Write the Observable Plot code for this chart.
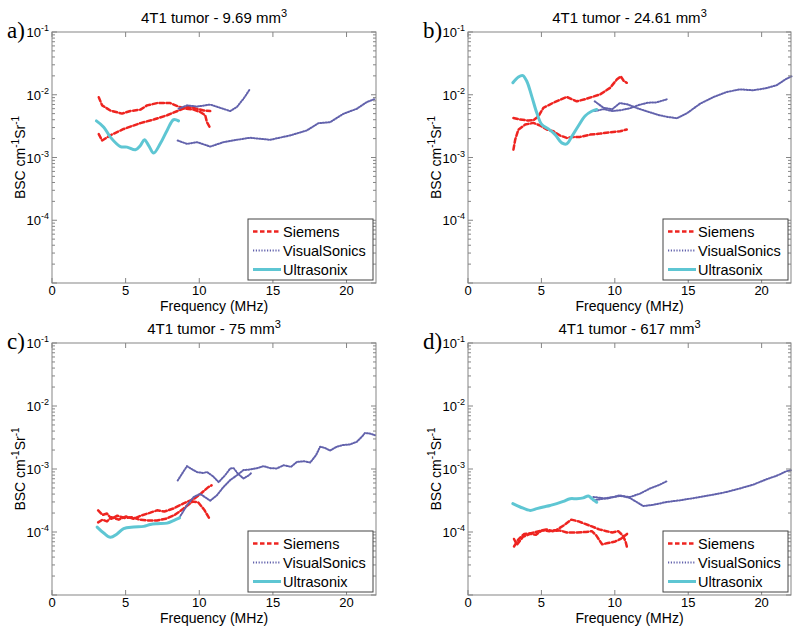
<!DOCTYPE html>
<html><head><meta charset="utf-8">
<script src="https://cdn.jsdelivr.net/npm/d3@7"></script>
<script src="https://cdn.jsdelivr.net/npm/@observablehq/plot@0.6"></script>
<style>
body{margin:0;background:#fff;}
#fig{position:relative;width:800px;height:636px;}
</style></head><body><div id="fig"></div>
<script>
// ---------- tick labels / categories ----------
const xTicks = [0, 5, 10, 15, 20];
const yTicks = [1e-1, 1e-2, 1e-3, 1e-4];
const yTickExp = ["-1", "-2", "-3", "-4"];
const seriesNames = ["Siemens", "VisualSonics", "Ultrasonix"];
const panelLetters = ["a)", "b)", "c)", "d)"];
const panelVolumes = ["9.69", "24.61", "75", "617"];

// ---------- data: [frequency MHz, BSC] ----------
const a_siemens1 = [[3.14,9.3e-3],[3.37,6.9e-3],[3.93,5.7e-3],[4.72,5.1e-3],[5.29,5.6e-3],[5.97,5.9e-3],[6.42,6.9e-3],[7.1,7.5e-3],[8.0,7.5e-3],[8.56,6.6e-3],[9.02,6.1e-3],[9.58,5.9e-3],[10.03,5.4e-3],[10.37,4.8e-3],[10.49,3.7e-3],[10.71,3.0e-3]];
const a_siemens2 = [[3.14,2.4e-3],[3.37,1.9e-3],[3.93,2.3e-3],[4.83,2.9e-3],[5.97,3.6e-3],[6.87,4.1e-3],[7.78,4.8e-3],[8.56,5.7e-3],[9.13,6.5e-3],[9.58,6.3e-3],[10.26,5.7e-3],[10.71,5.6e-3]];
const a_visual1 = [[8.56,6.1e-3],[9.13,6.9e-3],[9.81,6.6e-3],[10.71,7.1e-3],[11.39,6.3e-3],[12.07,5.6e-3],[12.52,6.5e-3],[12.97,8.8e-3],[13.42,1.27e-2]];
const a_visual2 = [[8.5,1.9e-3],[9.13,1.68e-3],[9.81,1.79e-3],[10.71,1.52e-3],[11.62,1.79e-3],[12.52,1.95e-3],[13.42,2.1e-3],[14.78,1.95e-3],[16.14,2.29e-3],[17.27,2.75e-3],[18.06,3.59e-3],[18.85,3.72e-3],[19.75,5.06e-3],[20.66,6.08e-3],[21.33,7.76e-3],[21.9,8.77e-3]];
const a_ultra = [[2.98,3.9e-3],[3.48,3.1e-3],[3.93,2.15e-3],[4.61,1.52e-3],[5.06,1.49e-3],[5.63,1.35e-3],[5.97,1.58e-3],[6.24,1.95e-3],[6.53,1.58e-3],[6.87,1.2e-3],[7.32,1.7e-3],[7.78,2.75e-3],[8.22,4.07e-3],[8.56,3.9e-3]];

const b_siemens1 = [[3.06,4.35e-3],[3.52,4.1e-3],[4.08,3.95e-3],[4.42,4.0e-3],[4.76,4.6e-3],[5.1,6.3e-3],[5.78,7.6e-3],[6.69,9.4e-3],[7.37,8.0e-3],[8.05,8.8e-3],[8.96,1.03e-2],[9.64,1.31e-2],[10.1,1.78e-2],[10.37,2.0e-2],[10.59,1.67e-2],[10.78,1.58e-2]];
const b_siemens2 = [[3.06,1.36e-3],[3.18,1.96e-3],[3.4,2.84e-3],[3.86,3.41e-3],[4.42,3.63e-3],[4.88,3.29e-3],[5.33,2.84e-3],[5.78,2.67e-3],[6.24,2.28e-3],[6.69,2.09e-3],[7.14,2.17e-3],[7.6,2.17e-3],[8.28,2.36e-3],[8.96,2.45e-3],[9.64,2.57e-3],[10.32,2.67e-3],[10.78,2.84e-3]];
const b_visual1 = [[8.6,5.6e-3],[9.2,6.0e-3],[9.8,5.6e-3],[10.4,5.8e-3],[11.0,6.2e-3],[11.6,7.0e-3],[12.2,7.6e-3],[12.8,7.7e-3],[13.5,8.6e-3]];
const b_visual2 = [[8.6,8.0e-3],[9.2,6.3e-3],[9.8,6.0e-3],[10.3,7.5e-3],[10.8,7.2e-3],[11.5,6.2e-3],[12.3,5.4e-3],[13.0,4.8e-3],[13.6,4.5e-3],[14.2,4.3e-3],[14.9,5.2e-3],[15.8,7.4e-3],[16.7,9.4e-3],[17.6,1.13e-2],[18.5,1.24e-2],[19.4,1.2e-2],[20.3,1.3e-2],[21.0,1.45e-2],[21.6,1.8e-2],[22,2.0e-2]];
const b_ultra = [[3.02,1.58e-2],[3.4,1.96e-2],[3.7,2.06e-2],[3.97,1.67e-2],[4.31,9.6e-3],[4.65,5.25e-3],[4.99,3.41e-3],[5.44,2.91e-3],[5.9,2.36e-3],[6.35,1.74e-3],[6.69,1.68e-3],[7.03,2.19e-3],[7.48,3.24e-3],[7.94,4.68e-3],[8.39,5.56e-3],[8.73,5.92e-3]];

const c_siemens1 = [[3.1,1.45e-4],[3.4,1.6e-4],[3.7,1.5e-4],[4.0,1.75e-4],[4.5,1.6e-4],[5.0,1.8e-4],[5.5,1.65e-4],[6.0,1.85e-4],[6.6,2.05e-4],[7.1,2.25e-4],[7.6,2.15e-4],[8.2,2.4e-4],[8.9,2.9e-4],[9.6,3.4e-4],[10.1,4.2e-4],[10.6,5.3e-4],[10.8,5.6e-4]];
const c_siemens2 = [[3.1,2.25e-4],[3.4,1.9e-4],[3.7,2.0e-4],[4.0,1.65e-4],[4.4,1.85e-4],[4.9,1.7e-4],[5.4,1.75e-4],[5.9,1.6e-4],[6.5,1.55e-4],[7.1,1.55e-4],[7.7,1.65e-4],[8.3,1.9e-4],[8.9,2.4e-4],[9.5,3.1e-4],[9.9,3.0e-4],[10.3,2.3e-4],[10.7,1.6e-4]];
const c_visual1 = [[8.5,6.7e-4],[9.13,1.13e-3],[9.5,1.0e-3],[9.81,9.1e-4],[10.2,8.8e-4],[10.5,9.1e-4],[10.9,7.8e-4],[11.28,6.3e-4],[11.7,8.0e-4],[12.07,1.04e-3],[12.3,1.05e-3],[12.6,8.5e-4],[12.97,7.2e-4],[13.3,8.0e-4],[13.5,8.8e-4]];
const c_visual2 = [[8.6,1.7e-4],[9.13,2.7e-4],[9.58,3.65e-4],[10.03,4.1e-4],[10.71,3.2e-4],[11.16,3.9e-4],[11.62,5.3e-4],[12.07,6.8e-4],[12.52,8.1e-4],[12.97,9.8e-4],[13.42,1.0e-3],[13.9,1.05e-3],[14.33,1.13e-3],[14.8,1.05e-3],[15.23,1.04e-3],[15.7,1.17e-3],[16.2,1.1e-3],[16.59,1.32e-3],[17.1,1.35e-3],[17.5,1.29e-3],[17.9,1.7e-3],[18.17,2.3e-3],[18.5,2.2e-3],[18.85,2.0e-3],[19.3,2.3e-3],[19.75,2.45e-3],[20.2,2.5e-3],[20.66,2.75e-3],[21.0,3.3e-3],[21.22,3.8e-3],[21.6,3.7e-3],[21.9,3.5e-3]];
const c_ultra = [[3.03,1.22e-4],[3.48,9.8e-5],[3.93,8.4e-5],[4.38,9.5e-5],[4.83,1.15e-4],[5.51,1.22e-4],[6.19,1.25e-4],[6.64,1.34e-4],[7.1,1.38e-4],[7.78,1.41e-4],[8.22,1.55e-4],[8.63,1.71e-4]];

const d_siemens1 = [[3.1,7.9e-5],[3.3,6.4e-5],[3.7,8.5e-5],[4.2,9.5e-5],[4.6,9.2e-5],[5.0,1.08e-4],[5.5,1.05e-4],[6.0,1.1e-4],[6.5,1.3e-4],[7.0,1.6e-4],[7.5,1.5e-4],[7.9,1.38e-4],[8.4,1.25e-4],[8.9,1.12e-4],[9.4,1.05e-4],[9.8,1.0e-4],[10.2,1.05e-4],[10.5,9.0e-5],[10.7,7.2e-5],[10.8,5.8e-5]];
const d_siemens2 = [[3.1,6.0e-5],[3.4,7.8e-5],[3.8,9.5e-5],[4.3,9.8e-5],[4.8,1.05e-4],[5.3,1.12e-4],[5.7,1.05e-4],[6.2,1.08e-4],[6.7,1.0e-4],[7.4,1.0e-4],[8.0,1.02e-4],[8.4,1.05e-4],[8.7,9.0e-5],[9.1,6.5e-5],[9.5,6.8e-5],[10.0,7.2e-5],[10.4,8.0e-5],[10.8,9.5e-5]];
const d_visual1 = [[8.5,3.24e-4],[9.41,3.52e-4],[10.32,3.8e-4],[11.0,3.66e-4],[11.68,4.14e-4],[12.36,5.0e-4],[13.04,5.75e-4],[13.5,6.5e-4]];
const d_visual2 = [[8.5,3.66e-4],[9.41,3.44e-4],[10.32,3.89e-4],[11.0,3.52e-4],[11.45,3.05e-4],[11.9,2.63e-4],[12.59,2.75e-4],[13.5,3.05e-4],[14.4,3.24e-4],[15.08,3.44e-4],[15.76,3.66e-4],[16.67,3.98e-4],[17.58,4.4e-4],[18.48,5.0e-4],[19.39,5.75e-4],[20.3,7.0e-4],[20.98,7.94e-4],[21.66,9.4e-4],[22.0,9.75e-4]];
const d_ultra = [[3.02,2.87e-4],[3.52,2.54e-4],[4.2,2.24e-4],[4.65,2.39e-4],[5.1,2.54e-4],[5.56,2.69e-4],[6.01,2.87e-4],[6.46,3.12e-4],[6.92,3.44e-4],[7.37,3.44e-4],[7.82,3.55e-4],[8.16,3.8e-4],[8.39,3.47e-4],[8.73,3.02e-4]];

// ---------- styles ----------
const FONT = "'Liberation Sans', Arial, Helvetica, sans-serif";
const styles = {
  Siemens:      {stroke: "#ee2420", strokeWidth: 2.5, strokeDasharray: "4.5,2.5", curve: "linear"},
  VisualSonics: {stroke: "#6262ac", strokeWidth: 2,   strokeDasharray: "1.2,1.6", curve: "linear"},
  Ultrasonix:   {stroke: "#5ec6d3", strokeWidth: 3,   strokeDasharray: "none",    curve: "catmull-rom"}
};

const panels = [
  {runs: {Siemens: [a_siemens1, a_siemens2], VisualSonics: [a_visual1, a_visual2], Ultrasonix: [a_ultra]}, left: 0,   top: 0,   height: 310, mt: 32, mb: 27, ml: 52, mr: 24},
  {runs: {Siemens: [b_siemens1, b_siemens2], VisualSonics: [b_visual1, b_visual2], Ultrasonix: [b_ultra]}, left: 400, top: 0,   height: 310, mt: 32, mb: 27, ml: 68, mr: 9},
  {runs: {Siemens: [c_siemens1, c_siemens2], VisualSonics: [c_visual1, c_visual2], Ultrasonix: [c_ultra]}, left: 0,   top: 310, height: 326, mt: 33, mb: 41, ml: 52, mr: 24},
  {runs: {Siemens: [d_siemens1, d_siemens2], VisualSonics: [d_visual1, d_visual2], Ultrasonix: [d_ultra]}, left: 400, top: 310, height: 326, mt: 33, mb: 41, ml: 68, mr: 9}
];

// minor log tick positions (2..9 x 10^k)
const yMinor = [];
for (let k = -5; k <= -2; k++) for (let m = 2; m <= 9; m++) yMinor.push(m * Math.pow(10, k));

function decor(i) {
  return (index, scales, values, dims) => {
    const {x, y} = scales;
    const {width, height, marginTop, marginRight, marginBottom, marginLeft} = dims;
    const L = marginLeft, R = width - marginRight, T = marginTop, B = height - marginBottom;
    const g = d3.create("svg:g").attr("font-family", FONT).attr("fill", "#000").attr("text-anchor", "start");
    // frame
    g.append("rect").attr("x", L).attr("y", T).attr("width", R - L).attr("height", B - T)
      .attr("fill", "none").attr("stroke", "#858585").attr("stroke-width", 1);
    const tk = g.append("g").attr("stroke", "#858585").attr("stroke-width", 1);
    for (const t of xTicks) {
      const px = x(t);
      tk.append("line").attr("x1", px).attr("x2", px).attr("y1", B).attr("y2", B - 5);
      tk.append("line").attr("x1", px).attr("x2", px).attr("y1", T).attr("y2", T + 5);
    }
    for (const t of [...yTicks, 1e-5]) {
      const py = y(t);
      tk.append("line").attr("x1", L).attr("x2", L + 5).attr("y1", py).attr("y2", py);
      tk.append("line").attr("x1", R).attr("x2", R - 5).attr("y1", py).attr("y2", py);
    }
    for (const t of yMinor) {
      const py = y(t);
      tk.append("line").attr("x1", L).attr("x2", L + 3).attr("y1", py).attr("y2", py);
      tk.append("line").attr("x1", R).attr("x2", R - 3).attr("y1", py).attr("y2", py);
    }
    // x tick labels
    for (const t of xTicks) {
      g.append("text").attr("x", x(t)).attr("y", B + 12).attr("text-anchor", "middle")
        .attr("font-size", 13).text(t);
    }
    // y tick labels 10^-n
    yTicks.forEach((t, j) => {
      const tx = g.append("text").attr("x", L - 3).attr("y", y(t) + 5).attr("text-anchor", "end").attr("font-size", 13);
      tx.append("tspan").text("10");
      tx.append("tspan").attr("dy", -6).attr("font-size", 9).text(yTickExp[j]);
    });
    // title
    const ti = g.append("text").attr("x", (L + R) / 2).attr("y", T - 9).attr("text-anchor", "middle").attr("font-size", 15);
    ti.append("tspan").text("4T1 tumor - " + panelVolumes[i] + " mm");
    ti.append("tspan").attr("dy", -6).attr("font-size", 11).text("3");
    // x label
    g.append("text").attr("x", (L + R) / 2).attr("y", B + 28).attr("text-anchor", "middle")
      .attr("font-size", 14).text("Frequency (MHz)");
    // y label
    const yl = g.append("text").attr("transform", `translate(${L - 27},${(T + B) / 2}) rotate(-90)`)
      .attr("text-anchor", "middle").attr("font-size", 14);
    yl.append("tspan").text("BSC cm");
    yl.append("tspan").attr("dy", -6).attr("font-size", 10).text("-1");
    yl.append("tspan").attr("dy", 6).text("Sr");
    yl.append("tspan").attr("dy", -6).attr("font-size", 10).text("-1");
    // panel letter
    g.append("text").attr("x", L - 45).attr("y", T + 6).attr("text-anchor", "start")
      .attr("font-family", "'Liberation Serif', 'Times New Roman', serif")
      .attr("font-size", 23).text(panelLetters[i]);
    // legend
    const w = 125, h = 61, lx = R - 3 - w, ly = B - 3 - h;
    const lg = g.append("g");
    lg.append("rect").attr("x", lx).attr("y", ly).attr("width", w).attr("height", h)
      .attr("fill", "#fff").attr("stroke", "#444").attr("stroke-width", 1);
    seriesNames.forEach((s, j) => {
      const cy = ly + 12.5 + j * 19;
      const st = styles[s];
      lg.append("line").attr("x1", lx + 5).attr("x2", lx + 33).attr("y1", cy).attr("y2", cy)
        .attr("stroke", st.stroke).attr("stroke-width", st.strokeWidth)
        .attr("stroke-dasharray", st.strokeDasharray);
      lg.append("text").attr("x", lx + 35).attr("y", cy + 5.5).attr("text-anchor", "start")
        .attr("font-size", 14.5).text(s);
    });
    return g.node();
  };
}

const fig = document.getElementById("fig");
panels.forEach((p, i) => {
  const rows = [];
  for (const s of seriesNames) {
    p.runs[s].forEach((run, r) => run.forEach(([f, v]) => rows.push({f, v, series: s, run: s + r})));
  }
  const lineMark = (s) => Plot.line(rows.filter(d => d.series === s), {
    x: "f", y: "v", z: "run", stroke: styles[s].stroke, strokeWidth: styles[s].strokeWidth,
    strokeDasharray: styles[s].strokeDasharray, curve: styles[s].curve, strokeLinejoin: "round"
  });
  const svg = Plot.plot({
    width: 400, height: p.height,
    marginTop: p.mt, marginBottom: p.mb, marginLeft: p.ml, marginRight: p.mr,
    style: {background: "none", overflow: "visible", position: "absolute", left: p.left + "px", top: p.top + "px", maxWidth: "none"},
    x: {domain: [0, 22], axis: null},
    y: {type: "log", domain: [1e-5, 1e-1], axis: null},
    marks: [
      lineMark("Siemens"),
      lineMark("VisualSonics"),
      lineMark("Ultrasonix"),
      decor(i)
    ]
  });
  // make sure each line layer carries its dash pattern
  const groups = svg.querySelectorAll('g[aria-label="line"]');
  groups.forEach((gEl, k) => {
    const st = styles[seriesNames[k]];
    if (st) gEl.querySelectorAll("path").forEach(pth => pth.setAttribute("stroke-dasharray", st.strokeDasharray));
  });
  fig.appendChild(svg);
});
</script>
</body></html>
